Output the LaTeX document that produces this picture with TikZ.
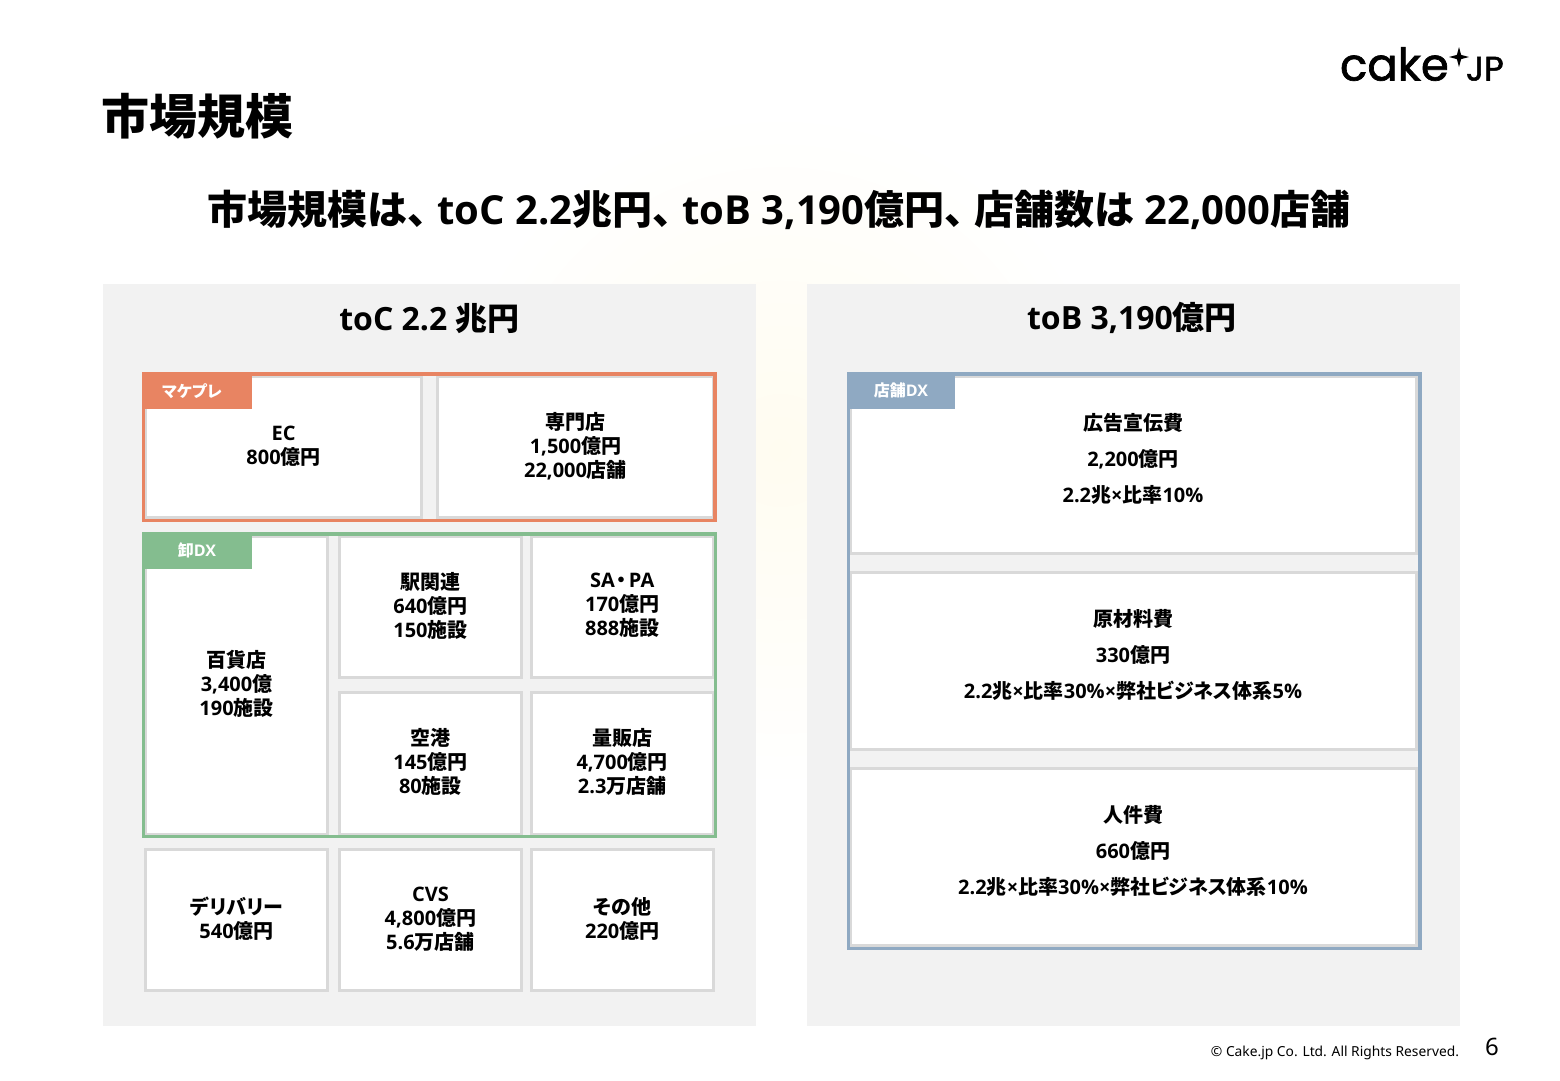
\documentclass[tikz,border=0pt]{standalone}
\usepackage{fontspec}
\setmainfont{Open Sans}
\newfontfamily\notofont{Noto Sans}
\newfontfamily\jpfont{Noto Sans CJK JP}[RawFeature=+palt]
\newfontfamily\logofont{Poppins}[FakeBold=1.5]
\newcommand{\jp}[1]{{\jpfont #1}}
\usepackage{xcolor}
\usetikzlibrary{positioning, shapes.geometric}
\definecolor{panelgray}{HTML}{F2F2F2}
\definecolor{cellgray}{HTML}{D9D9D9}
\definecolor{mpcolor}{HTML}{E88462}
\definecolor{dxcolor}{HTML}{84BD8F}
\definecolor{shopcolor}{HTML}{8FA9C2}
\definecolor{glowcolor}{HTML}{FFFCF0}

\begin{document}
\begin{tikzpicture}[
  x=1pt, y=-1pt,
  every node/.style={outer sep=0pt, inner sep=0pt},
  panel/.style={fill=panelgray, minimum width=653pt, minimum height=742pt},
  head/.style={font=\fontsize{32}{38}\selectfont\bfseries},
  cell/.style={draw=cellgray, fill=white, line width=3pt, align=center, text depth=4.5pt, font=\fontsize{20}{24}\selectfont\bfseries},
  smallcell/.style={cell, minimum width=181.5pt, minimum height=141.4pt},
  widecell/.style={cell, minimum width=275.5pt, minimum height=141pt},
  costcell/.style={cell, minimum width=566pt, minimum height=177pt, text depth=13pt, font=\fontsize{20}{36}\selectfont\bfseries},
  frame/.style={draw=#1, line width=3.4pt},
  tagbox/.style={fill=#1, text=white, minimum height=37pt, font=\fontsize{16}{19}\selectfont\bfseries}
]
\useasboundingbox (0,0) rectangle (1560,1080);
\fill[white] (0,0) rectangle (1560,1080);
\shade[inner color=glowcolor, outer color=white] (780,450) circle (340);

% header
\node[anchor=west, font=\fontsize{48}{56}\selectfont\bfseries] (title) at (101,116) {\jp{市場規模}};
\node[font=\fontsize{40}{48}\selectfont\bfseries] (lead) at (779,210)
  {\jp{市場規模は、}\hspace{10pt}toC 2.2\jp{兆円、}\hspace{10pt}toB 3,190\jp{億円、}\hspace{10pt}\jp{店舗数は} 22,000\jp{店舗}};
\node[anchor=base west, font=\logofont\fontsize{45}{50}\selectfont] (logoname) at (1340,80.5) {cake};
\node[anchor=base west, font=\logofont\fontsize{34}{40}\selectfont] (logojp) at (1466,80.5) {JP};
\node[star, star points=4, star point ratio=.3, shape border rotate=45, fill=black, minimum size=6pt] (logostar) at (1459,57) {};

% panels
\node[panel, anchor=north west] (tocpanel) at (103,284) {};
\node[panel, anchor=north west] (tobpanel) at (807,284) {};
\node[head] (tochead) at (429.5,319) {toC 2.2 \jp{兆円}};
\node[head] (tobhead) at (1132,318) {toB 3,190\jp{億円}};

% left column
\node[widecell, anchor=north west] (ec) at (145.8,376.5) {EC\\800\jp{億円}};
\node[widecell, right=16.5pt of ec] (senmon) {\jp{専門店}\\1,500\jp{億円}\\22,000\jp{店舗}};
\node[frame=mpcolor, minimum width=571.5pt, minimum height=146.3pt, anchor=north west] (mpframe) at (143.6,374) {};
\node[tagbox=mpcolor, minimum width=110pt, anchor=north west] (mptag) at (142,372.3) {\jp{マケプレ}\hspace*{10pt}};

\node[smallcell, minimum height=298.5pt, anchor=north west] (depart) at (145.8,536) {\jp{百貨店}\\3,400\jp{億}\\190\jp{施設}};
\node[smallcell, right=12.4pt of depart.north east, anchor=north west] (station) {\jp{駅関連}\\640\jp{億円}\\150\jp{施設}};
\node[smallcell, right=10.3pt of station] (sapa) {SA\hspace{2pt}\jp{・}\hspace{2pt}PA\\170\jp{億円}\\888\jp{施設}};
\node[smallcell, below=15.5pt of station] (airport) {\jp{空港}\\145\jp{億円}\\80\jp{施設}};
\node[smallcell, below=15.5pt of sapa] (mass) {\jp{量販店}\\4,700\jp{億円}\\2.3\jp{万店舗}};
\node[frame=dxcolor, minimum width=572pt, minimum height=302.7pt, anchor=north west] (dxframe) at (143.6,534) {};
\node[tagbox=dxcolor, minimum width=110pt, anchor=north west] (dxtag) at (142,532.3) {\jp{卸}DX};

\node[smallcell, anchor=north west] (delivery) at (145.8,849.3) {\jp{デリバリー}\\540\jp{億円}};
\node[smallcell, right=12.4pt of delivery] (cvs) {CVS\\4,800\jp{億円}\\5.6\jp{万店舗}};
\node[smallcell, right=10.3pt of cvs] (other) {\jp{その他}\\220\jp{億円}};

% right column
\node[costcell, anchor=north west] (ad) at (850,376.3) {\jp{広告宣伝費}\\2,200\jp{億円}\\2.2\jp{兆}×\jp{比率}10\%};
\node[costcell, below=19pt of ad] (material) {\jp{原材料費}\\330\jp{億円}\\2.2\jp{兆}×\jp{比率}30\%×\jp{弊社ビジネス体系}5\%};
\node[costcell, below=19pt of material] (labor) {\jp{人件費}\\660\jp{億円}\\2.2\jp{兆}×\jp{比率}30\%×\jp{弊社ビジネス体系}10\%};
\node[frame=shopcolor, minimum width=571.5pt, minimum height=574.5pt, anchor=north west] (shopframe) at (848.3,374) {};
\node[tagbox=shopcolor, minimum width=108.3pt, anchor=north west] (shoptag) at (846.7,372.3) {\jp{店舗}DX};

% footer
\node[anchor=east, font=\notofont\fontsize{13.8}{17}\selectfont] (copyright) at (1459,1053) {© Cake.jp Co. Ltd. All Rights Reserved.};
\node[font=\notofont\fontsize{24}{28}\selectfont] (pageno) at (1492,1047) {6};
\end{tikzpicture}
\end{document}
